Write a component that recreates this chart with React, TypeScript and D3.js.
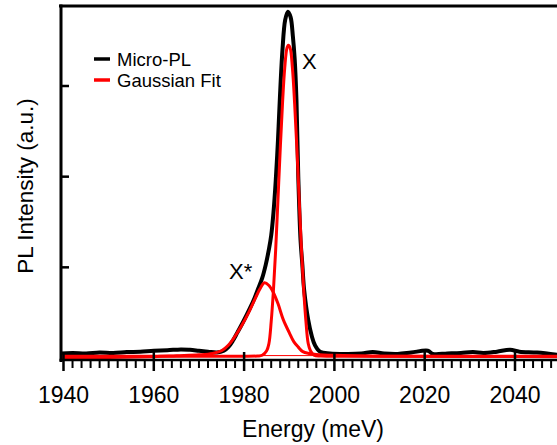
import React from "react";
import * as d3 from "d3";

// Micro-PL spectrum (energy in meV, intensity in a.u.)
const plEnergy = [1939.5, 1942, 1945, 1948, 1951, 1954, 1957, 1960, 1963, 1966, 1968, 1970, 1972, 1974, 1975.5, 1976.5, 1977.5, 1978.5, 1979.8, 1981.3, 1982.3, 1983.0, 1984.0, 1984.8, 1985.5, 1986.0, 1986.5, 1987.0, 1987.5, 1987.9, 1988.5, 1989.1, 1989.7, 1990.3, 1990.8, 1991.2, 1991.6, 1992.0, 1992.5, 1992.9, 1993.3, 1994.2, 1995.0, 1995.7, 1996.8, 1999, 2003, 2006, 2008.5, 2011, 2014, 2017, 2020.7, 2021.8, 2025, 2028, 2030.7, 2033, 2036, 2038.9, 2041, 2044.9, 2049.5];
const plIntensity = [0.05, 0.055, 0.05, 0.06, 0.055, 0.065, 0.07, 0.08, 0.085, 0.095, 0.09, 0.08, 0.07, 0.06, 0.08, 0.12, 0.19, 0.28, 0.40, 0.55, 0.66, 0.75, 0.88, 1.03, 1.20, 1.35, 1.60, 1.95, 2.40, 2.84, 3.40, 3.73, 3.82, 3.76, 3.55, 3.30, 2.84, 2.00, 1.30, 1.03, 0.75, 0.42, 0.24, 0.14, 0.07, 0.05, 0.045, 0.05, 0.065, 0.05, 0.045, 0.06, 0.08, 0.045, 0.05, 0.055, 0.065, 0.055, 0.07, 0.09, 0.07, 0.06, 0.035];

// Gaussian fit component X
const fitXEnergy = [1939.5, 1975, 1983, 1984, 1985, 1985.5, 1986, 1986.5, 1987, 1987.5, 1988, 1988.5, 1989, 1989.5, 1989.8, 1990.2, 1990.7, 1991.2, 1991.7, 1992.2, 1992.7, 1993.2, 1993.7, 1994.2, 1994.7, 1995.5, 1997, 2005, 2049.5];
const fitXIntensity = [0.02, 0.02, 0.022, 0.03, 0.08, 0.16, 0.40, 0.75, 1.20, 1.75, 2.30, 2.80, 3.20, 3.42, 3.45, 3.42, 3.20, 2.80, 2.30, 1.75, 1.20, 0.75, 0.40, 0.16, 0.08, 0.03, 0.022, 0.02, 0.02];

// Gaussian fit component X*
const fitTrionEnergy = [1939.5, 1950, 1960, 1965, 1970, 1973, 1975, 1976.5, 1978, 1979.5, 1981, 1982.5, 1983.5, 1984.5, 1985.5, 1986.5, 1987.5, 1988.7, 1990, 1991, 1992, 1993, 1994.5, 1996, 2000, 2010, 2049.5];
const fitTrionIntensity = [0.0, 0.005, 0.015, 0.025, 0.035, 0.05, 0.08, 0.14, 0.24, 0.36, 0.50, 0.66, 0.76, 0.83, 0.80, 0.72, 0.60, 0.42, 0.28, 0.18, 0.12, 0.07, 0.05, 0.04, 0.03, 0.02, 0.015];

// Fit baseline
const baseEnergy = [1939.5, 2049.5];
const baseIntensity = [0.028, 0.025];

const xMajorTicks = [1940, 1960, 1980, 2000, 2020, 2040];
const yTicks = [1, 2, 3];
const legendLabels = ["Micro-PL", "Gaussian Fit"];
const legendColors = ["#000000", "#ff0000"];

const W = 557, H = 445;
const FONT = "'Liberation Sans', Arial, sans-serif";

export default function App() {
  const x = d3.scaleLinear().domain([1940, 2040]).range([63.5, 515]);
  const y = d3.scaleLinear().domain([0, 3]).range([358, 86]);
  const left = 61, top = 6, bottom = 360, right = W;

  const mk = (es: number[], is: number[]) =>
    d3.line<number>()
      .x((_, i) => x(es[i]))
      .y((v) => y(v))
      .curve(d3.curveCatmullRom.alpha(0.5))(is) || "";

  const minorTicks = d3.range(1940, 2050, 2).filter((v) => v % 20 !== 0 && x(v) <= right);

  return (
    <svg width={W} height={H} style={{ position: "absolute", left: 0, top: 0, background: "#fff" }}>
      <defs>
        <clipPath id="plot">
          <rect x={left} y={top} width={right - left} height={bottom - top} />
        </clipPath>
      </defs>
      <g clipPath="url(#plot)" fill="none" strokeLinejoin="round" strokeLinecap="round">
        <path d={mk(baseEnergy, baseIntensity)} stroke="#ff0000" strokeWidth={1} />
        <path d={mk(plEnergy, plIntensity)} stroke="#000" strokeWidth={4} />
        <path d={mk(fitTrionEnergy, fitTrionIntensity)} stroke="#ff0000" strokeWidth={3} />
        <path d={mk(fitXEnergy, fitXIntensity)} stroke="#ff0000" strokeWidth={3} />
      </g>

      {/* frame */}
      <line x1={left - 2} x2={right} y1={top} y2={top} stroke="#000" strokeWidth={3} />
      <line x1={left} x2={left} y1={top - 1.5} y2={bottom + 2} stroke="#000" strokeWidth={3} />
      <line x1={left - 1.5} x2={right} y1={bottom} y2={bottom} stroke="#000" strokeWidth={2.5} />

      {/* y ticks */}
      {yTicks.map((t) => (
        <line key={t} x1={left} x2={left + 8} y1={y(t)} y2={y(t)} stroke="#000" strokeWidth={2.5} />
      ))}

      {/* x ticks */}
      {minorTicks.map((t) => (
        <line key={"m" + t} x1={x(t)} x2={x(t)} y1={bottom} y2={bottom + 8} stroke="#000" strokeWidth={2} />
      ))}
      {xMajorTicks.map((t) => (
        <g key={t}>
          <line x1={x(t)} x2={x(t)} y1={bottom - 8} y2={bottom + 11} stroke="#000" strokeWidth={2.5} />
          <text x={x(t)} y={403} textAnchor="middle" fontFamily={FONT} fontSize={23} fill="#000">{t}</text>
        </g>
      ))}

      <text x={313} y={437} textAnchor="middle" fontFamily={FONT} fontSize={23} fill="#000">Energy (meV)</text>
      <text transform="translate(32.5,186) rotate(-90)" textAnchor="middle" fontFamily={FONT} fontSize={22.5} fill="#000">PL Intensity (a.u.)</text>

      {/* peak labels */}
      <text x={302} y={69} fontFamily={FONT} fontSize={22} fill="#000">X</text>
      <text x={229} y={279} fontFamily={FONT} fontSize={22} fill="#000">X*</text>

      {/* legend */}
      {legendLabels.map((l, i) => (
        <g key={l}>
          <line x1={94} x2={110} y1={59 + i * 21} y2={59 + i * 21} stroke={legendColors[i]} strokeWidth={3.5} />
          <text x={117} y={65.5 + i * 21} fontFamily={FONT} fontSize={18.5} fill="#000">{l}</text>
        </g>
      ))}
    </svg>
  );
}
